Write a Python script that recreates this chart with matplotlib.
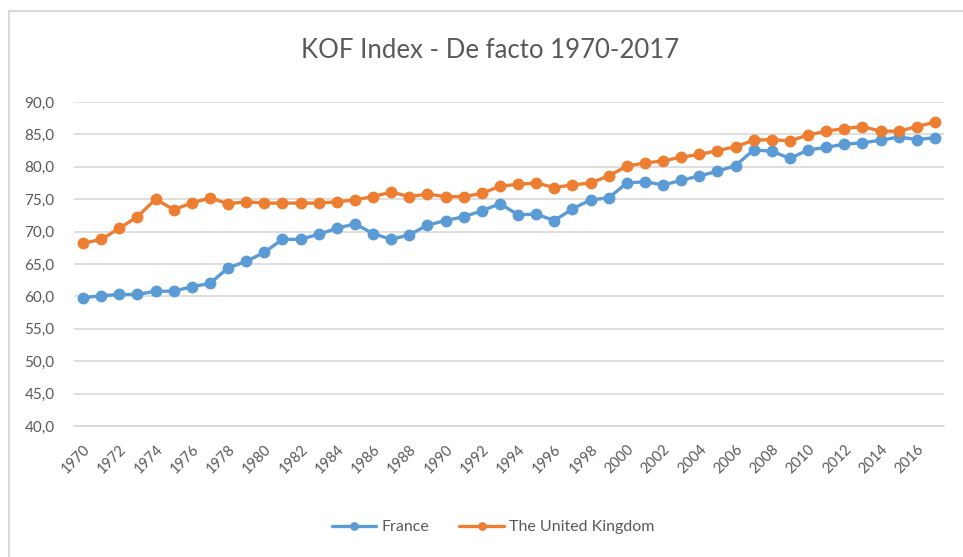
import matplotlib
matplotlib.use("Agg")
import matplotlib.pyplot as plt
from matplotlib.lines import Line2D
from matplotlib.ticker import FuncFormatter, FixedLocator

years = list(range(1970, 2018))
france = [59.8, 60.1, 60.3, 60.3, 60.8, 60.8, 61.5, 62.0, 64.4, 65.4,
          66.8, 68.8, 68.8, 69.6, 70.5, 71.2, 69.7, 68.8, 69.5, 71.0,
          71.7, 72.3, 73.2, 74.3, 72.6, 72.7, 71.7, 73.5, 74.9, 75.2,
          77.5, 77.7, 77.2, 77.9, 78.6, 79.3, 80.2, 82.6, 82.4, 81.3,
          82.6, 83.0, 83.5, 83.7, 84.1, 84.6, 84.2, 84.5]
uk = [68.2, 68.8, 70.5, 72.3, 75.0, 73.4, 74.4, 75.2, 74.3, 74.6,
      74.4, 74.4, 74.4, 74.4, 74.6, 74.9, 75.4, 76.1, 75.4, 75.8,
      75.4, 75.4, 75.9, 77.0, 77.3, 77.5, 76.8, 77.2, 77.5, 78.6,
      80.1, 80.6, 80.9, 81.5, 81.9, 82.5, 83.1, 84.1, 84.2, 84.0,
      84.9, 85.5, 85.9, 86.2, 85.5, 85.5, 86.2, 86.9]
series_names = ["France", "The United Kingdom"]
colors = ["#5B9BD5", "#ED7D31"]
y_ticks = [40, 45, 50, 55, 60, 65, 70, 75, 80, 85, 90]
x_label_years = years[::2]

FONT = ["Lato", "DejaVu Sans"]
GRAY = "#595959"

W, H = 963, 557
fig = plt.figure(figsize=(W / 100, H / 100), dpi=100)

# chart frame (left/top border visible)
fig.add_artist(Line2D([9 / W, 9 / W], [0, 1 - 11 / H], color="#d9d9d9", lw=1.5, transform=fig.transFigure))
fig.add_artist(Line2D([9 / W, 1], [1 - 11 / H, 1 - 11 / H], color="#d9d9d9", lw=1.5, transform=fig.transFigure))

L, R, T, B = 74, 944, 102, 426
ax = fig.add_axes([L / W, 1 - B / H, (R - L) / W, (B - T) / H])

idx = list(range(len(years)))
for vals, name, c in zip([france, uk], series_names, colors):
    ax.plot(idx, vals, color=c, lw=2.4, marker="o", markersize=7.5, label=name,
            solid_capstyle="round", zorder=3)

ax.set_xlim(-0.5, len(years) - 0.5)
ax.set_ylim(40, 90)
ax.yaxis.set_major_locator(FixedLocator(y_ticks))
ax.yaxis.set_major_formatter(FuncFormatter(lambda v, p: f"{v:.1f}".replace(".", ",")))
ax.grid(axis="y", color="#d9d9d9", lw=1.2)
ax.set_axisbelow(True)
for s in ["top", "right", "left"]:
    ax.spines[s].set_visible(False)
ax.spines["bottom"].set_color("#d9d9d9")
ax.spines["bottom"].set_linewidth(1.2)

ax.set_xticks([years.index(y) for y in x_label_years])
ax.set_xticklabels([str(y) for y in x_label_years], rotation=45, ha="right",
                   rotation_mode="anchor", fontsize=10.5, color=GRAY, family=FONT)
ax.tick_params(axis="x", length=0, pad=12)
ax.tick_params(axis="y", length=0, pad=14, labelsize=11, labelcolor=GRAY)
for t in ax.get_yticklabels():
    t.set_family(FONT)

fig.text(490 / W, 1 - 50 / H, "KOF Index - De facto 1970-2017", ha="center", va="center",
         fontsize=18.5, color=GRAY, family=FONT)

leg = fig.legend(loc="center", bbox_to_anchor=(493 / W, 1 - 527 / H), ncol=2, frameon=False,
                 prop={"family": FONT, "size": 11.5}, handlelength=2.8, columnspacing=1.9,
                 handletextpad=0.3, markerscale=0.7)
for t in leg.get_texts():
    t.set_color(GRAY)

fig.savefig("out.png", dpi=100, facecolor="white")
